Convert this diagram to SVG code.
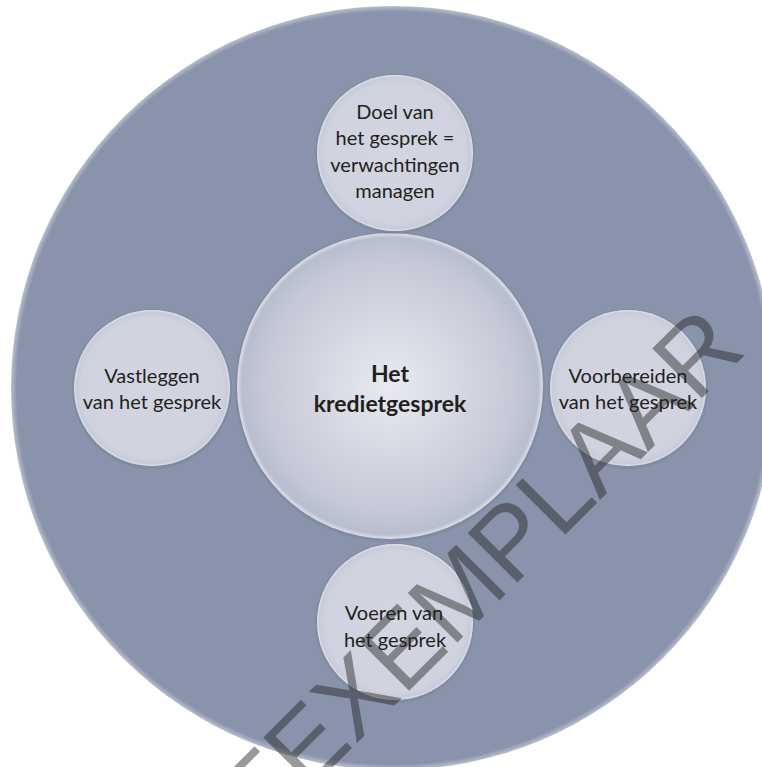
<svg xmlns="http://www.w3.org/2000/svg" width="762" height="767" viewBox="0 0 762 767">
<defs>
<radialGradient id="gc" cx="50%" cy="50%" r="50%">
<stop offset="0" stop-color="#e9eaf0"/>
<stop offset="0.8" stop-color="#c6cad8"/>
<stop offset="0.97" stop-color="#b9becf"/>
<stop offset="1" stop-color="#dfe1e9"/>
</radialGradient>
<radialGradient id="gs" cx="50%" cy="50%" r="50%">
<stop offset="0" stop-color="#d3d6e1"/>
<stop offset="0.9" stop-color="#d0d3df"/>
<stop offset="0.97" stop-color="#c8cbd8"/>
<stop offset="1" stop-color="#e3e5ec"/>
</radialGradient>
<radialGradient id="gb" cx="50%" cy="50%" r="50%">
<stop offset="0.985" stop-color="#8993ab"/>
<stop offset="1" stop-color="#8993ab" stop-opacity="0.6"/>
</radialGradient>
</defs>
<style>
.sm{fill:url(#gs);}
.sh{fill:#7a8399;opacity:0.5;}
.t{font-family:"Lato","Open Sans",sans-serif;font-size:20px;fill:#231f20;text-anchor:middle;}
.tb{font-family:"Lato","Open Sans",sans-serif;font-size:23px;font-weight:bold;fill:#231f20;text-anchor:middle;}
.wm{font-family:"Liberation Sans Narrow","Liberation Sans",sans-serif;font-size:102px;fill:#222;opacity:0.45;text-anchor:end;}
</style>
<rect width="762" height="767" fill="#ffffff"/>
<g id="background">
<circle cx="393" cy="388" r="382" fill="url(#gb)"/>
</g>
<g id="connectors"/>
<g id="center">
<circle cx="390" cy="387" r="155" class="sh"/>
<circle cx="390" cy="386" r="153" fill="url(#gc)"/>
<text class="tb" x="390" y="382">Het</text>
<text class="tb" x="390" y="412">kredietgesprek</text>
</g>
<g id="top">
<circle cx="395" cy="154" r="80" class="sh"/>
<circle cx="395" cy="153" r="78" class="sm"/>
<text class="t" x="395" y="119">Doel van</text>
<text class="t" x="395" y="145">het gesprek =</text>
<text class="t" x="395" y="172">verwachtingen</text>
<text class="t" x="395" y="198">managen</text>
</g>
<g id="left">
<circle cx="152" cy="389" r="80" class="sh"/>
<circle cx="152" cy="388" r="78" class="sm"/>
<text class="t" x="152" y="383">Vastleggen</text>
<text class="t" x="152" y="409">van het gesprek</text>
</g>
<g id="right">
<circle cx="628" cy="389" r="80" class="sh"/>
<circle cx="628" cy="388" r="78" class="sm"/>
<text class="t" x="628" y="383">Voorbereiden</text>
<text class="t" x="628" y="409">van het gesprek</text>
</g>
<g id="bottom">
<circle cx="395" cy="623" r="80" class="sh"/>
<circle cx="395" cy="622" r="78" class="sm"/>
<text class="t" x="394" y="620">Voeren van</text>
<text class="t" x="395" y="647">het gesprek</text>
</g>
<g id="watermark">
<text class="wm" x="0" y="0" transform="translate(748,352) rotate(-45)">PROEFEXEMPLAAR</text>
</g>
</svg>
